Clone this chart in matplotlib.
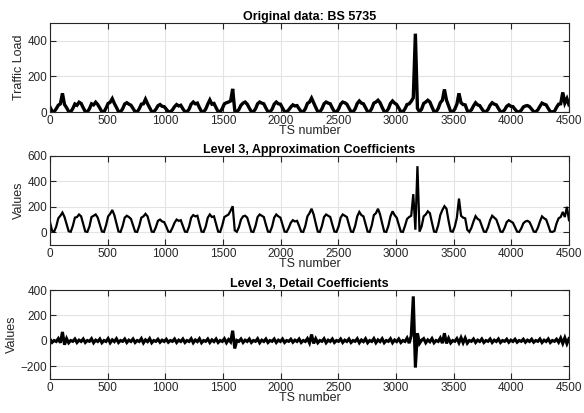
import numpy as np
import matplotlib
matplotlib.use("Agg")
import matplotlib.pyplot as plt

plt.rcParams['font.family'] = ['Liberation Sans', 'DejaVu Sans']

# sample step of the values (TS units)
ts_step = 18

# traffic load, one row per day (8 samples of 18 TS), last row is the tail
original = [
    [28, 4, 2, 18, 38, 46, 105, 42],
    [24, 3, 1, 20, 45, 38, 55, 48],
    [24, 2, 1, 18, 46, 40, 55, 42],
    [22, 2, 1, 22, 48, 55, 75, 48],
    [26, 2, 1, 18, 45, 52, 44, 38],
    [20, 2, 1, 18, 44, 46, 72, 46],
    [24, 2, 1, 15, 35, 42, 32, 30],
    [16, 2, 1, 12, 30, 42, 34, 38],
    [18, 2, 1, 16, 44, 56, 46, 50],
    [24, 2, 1, 16, 44, 68, 44, 48],
    [24, 2, 1, 20, 46, 52, 56, 62],
    [130, 8, 1, 14, 38, 50, 56, 44],
    [22, 2, 1, 18, 46, 56, 50, 46],
    [22, 2, 1, 16, 44, 56, 46, 44],
    [22, 2, 1, 12, 28, 40, 34, 36],
    [18, 2, 1, 18, 48, 56, 78, 52],
    [26, 2, 1, 18, 46, 56, 50, 46],
    [22, 2, 1, 16, 44, 56, 52, 44],
    [22, 2, 1, 18, 48, 62, 50, 46],
    [24, 2, 1, 20, 50, 56, 66, 52],
    [26, 2, 1, 18, 48, 62, 50, 42],
    [22, 2, 1, 18, 42, 46, 60, 80],
    [440, 20, 2, 16, 48, 56, 66, 56],
    [28, 2, 1, 20, 52, 66, 127, 66],
    [34, 3, 1, 16, 44, 105, 52, 42],
    [40, 8, 1, 12, 34, 52, 40, 36],
    [18, 2, 1, 14, 38, 52, 44, 40],
    [20, 2, 1, 12, 32, 40, 32, 30],
    [15, 2, 1, 10, 28, 34, 36, 30],
    [16, 2, 1, 12, 32, 50, 44, 40],
    [20, 2, 1, 4, 26, 44, 46, 110],
    [50, 75, 40],
]

# level 3 approximation coefficients
approx = [
    [80, 12, 5, 45, 110, 130, 155, 120],
    [65, 8, 4, 50, 115, 120, 140, 125],
    [65, 6, 3, 45, 120, 130, 140, 115],
    [60, 6, 3, 55, 125, 145, 175, 135],
    [70, 6, 3, 50, 115, 130, 120, 105],
    [55, 5, 3, 50, 115, 125, 145, 125],
    [65, 5, 3, 40, 90, 100, 85, 80],
    [45, 5, 3, 35, 75, 100, 90, 95],
    [50, 5, 3, 45, 115, 135, 125, 130],
    [65, 5, 3, 45, 115, 140, 120, 125],
    [65, 5, 3, 55, 120, 130, 140, 170],
    [205, 15, 4, 40, 100, 125, 130, 115],
    [60, 5, 3, 50, 120, 140, 130, 120],
    [60, 5, 3, 45, 115, 140, 125, 115],
    [60, 5, 3, 35, 75, 95, 85, 90],
    [50, 5, 3, 50, 125, 150, 185, 140],
    [70, 5, 3, 50, 120, 140, 130, 120],
    [60, 5, 3, 45, 115, 140, 130, 120],
    [60, 5, 3, 50, 125, 160, 135, 125],
    [65, 5, 3, 55, 135, 150, 185, 140],
    [70, 5, 3, 50, 125, 165, 135, 115],
    [60, 5, 3, 50, 105, 120, 130, 300],
    [20, 520, 5, 45, 125, 140, 165, 150],
    [75, 5, 3, 55, 135, 175, 205, 185],
    [90, 8, 4, 45, 115, 265, 130, 115],
    [110, 20, 3, 35, 85, 127, 105, 95],
    [50, 5, 3, 40, 95, 130, 115, 100],
    [55, 5, 3, 35, 80, 95, 85, 75],
    [40, 5, 3, 30, 70, 85, 90, 80],
    [45, 5, 3, 35, 85, 125, 110, 100],
    [55, 5, 3, 10, 70, 110, 120, 160],
    [120, 200, 95],
]

# level 3 detail coefficients
detail = [
    [14, -12, 3, -5, 18, -15, 70, -30],
    [18, -15, 3, -4, 15, -13, 6, -5],
    [15, -13, 3, -4, 17, -15, 6, -5],
    [15, -15, 3, -5, 18, -15, 8, -6],
    [17, -13, 3, -4, 15, -13, 6, -5],
    [15, -13, 3, -5, 18, -16, 8, -6],
    [18, -15, 3, -4, 13, -11, 6, -5],
    [13, -11, 3, -4, 15, -13, 6, -5],
    [15, -13, 3, -5, 17, -15, 7, -6],
    [17, -15, 3, -4, 15, -13, 8, -6],
    [15, -13, 3, -5, 17, -15, 10, -8],
    [80, -60, 4, -4, 15, -13, 6, -5],
    [15, -13, 3, -4, 17, -15, 6, -5],
    [15, -13, 3, -4, 15, -13, 6, -5],
    [15, -13, 3, -4, 13, -11, 6, -5],
    [15, -13, 3, -5, 18, -16, 50, -20],
    [17, -15, 3, -4, 17, -15, 6, -5],
    [15, -13, 3, -4, 15, -13, 6, -5],
    [15, -13, 3, -4, 17, -15, 7, -6],
    [17, -15, 3, -5, 18, -15, 8, -6],
    [17, -15, 3, -4, 17, -15, 7, -6],
    [15, -13, 3, -5, 22, -18, 40, 350],
    [-210, 60, -20, 5, 18, -15, 8, -7],
    [18, -15, 3, -5, 22, -18, 60, -20],
    [20, -16, 3, -4, 18, -15, 25, -15],
    [22, -18, 3, -4, 15, -13, 6, -5],
    [15, -13, 3, -4, 15, -13, 6, -5],
    [15, -13, 3, -4, 13, -11, 6, -5],
    [13, -11, 3, -4, 13, -11, 6, -5],
    [13, -11, 3, -4, 15, -13, 6, -5],
    [15, -13, 3, -4, 13, -11, 22, -20],
    [24, -22, 18],
]

titles = ["Original data: BS 5735",
          "Level 3, Approximation Coefficients",
          "Level 3, Detail Coefficients"]
ylabels = ["Traffic Load", "Values", "Values"]
ylims = [(0, 500), (-100, 600), (-300, 400)]
yticks = [[0, 200, 400], [0, 200, 400, 600], [-200, 0, 200, 400]]
xticks = list(range(0, 4501, 500))


def flat(rows):
    return np.array([v for row in rows for v in row], dtype=float)


series = [flat(original), flat(approx), flat(detail)]
widths = [2.4, 1.6, 2.2]

fig = plt.figure(figsize=(5.84, 4.13), dpi=100)
bottoms = [0.7288, 0.4068, 0.0823]
ax_col = '#262626'

for i in range(3):
    ax = fig.add_axes([0.0856, bottoms[i], 0.8887, 0.2155])
    y = series[i]
    x = np.arange(len(y)) * ts_step
    ax.plot(x, y, color='black', lw=widths[i], solid_joinstyle='miter')
    ax.set_xlim(0, 4500)
    ax.set_ylim(*ylims[i])
    ax.set_xticks(xticks)
    ax.set_yticks(yticks[i])
    ax.grid(True, color='#e3e3e3', lw=0.8)
    ax.set_axisbelow(True)
    ax.tick_params(direction='in', top=True, right=True, length=4,
                   width=0.8, labelsize=8.5, colors=ax_col, pad=2)
    for s in ax.spines.values():
        s.set_color(ax_col)
        s.set_linewidth(0.8)
    ax.set_title(titles[i], fontsize=9, fontweight='bold', pad=2)
    ax.set_xlabel("TS number", fontsize=9, labelpad=-1, color=ax_col)
    ax.set_ylabel(ylabels[i], fontsize=9, labelpad=2, color=ax_col)

fig.savefig("out.png", dpi=100)
